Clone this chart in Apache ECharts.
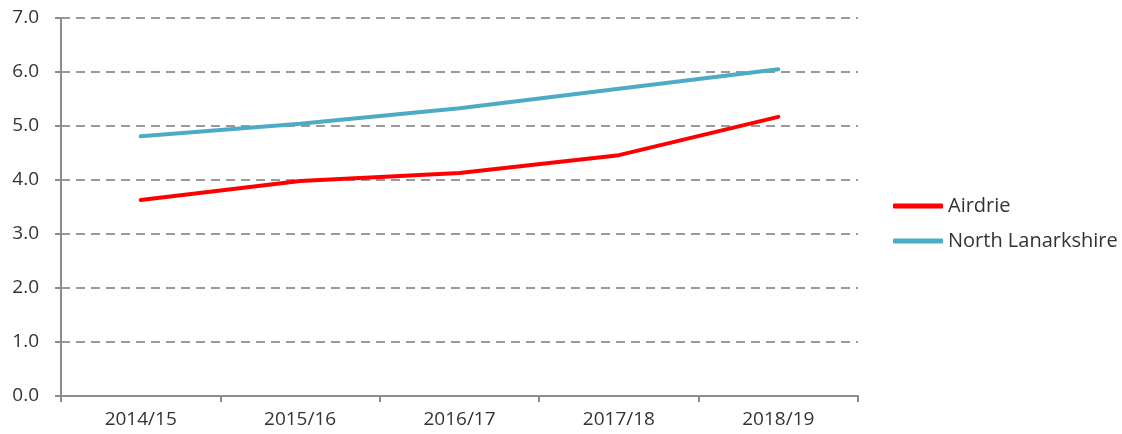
<!DOCTYPE html>
<html>
<head>
<meta charset="utf-8">
<script src="https://cdn.jsdelivr.net/npm/echarts@6/dist/echarts.min.js"></script>
<style>
  html, body { margin: 0; padding: 0; background: #fff; }
  #chart { width: 1122px; height: 434px; }
</style>
</head>
<body>
<div id="chart"></div>
<script>
// years along the bottom
const years = ["2014/15", "2015/16", "2016/17", "2017/18", "2018/19"];
// values
const airdrie = [3.63, 3.98, 4.13, 4.46, 5.17];
const northLanarkshire = [4.81, 5.04, 5.33, 5.69, 6.05];

const labelFont = "'Open Sans', 'Noto Sans', sans-serif";

let myChart = echarts.init(document.getElementById("chart"));
let option = {
  animation: false,
  grid: { left: 61, right: 264, top: 18, bottom: 38, containLabel: false },
  legend: {
    orient: "vertical",
    left: 888,
    top: 191,
    itemWidth: 50,
    itemHeight: 5,
    itemGap: 15,
    icon: "roundRect",
    textStyle: { fontFamily: labelFont, fontSize: 20, color: "#333" },
    data: ["Airdrie", "North Lanarkshire"]
  },
  xAxis: {
    type: "category",
    data: years,
    boundaryGap: true,
    axisLine: { lineStyle: { color: "#8c8c8c", width: 2 } },
    axisTick: { show: true, length: 6, lineStyle: { color: "#8c8c8c", width: 2 } },
    axisLabel: { fontFamily: labelFont, fontSize: 19, color: "#333", margin: 14 }
  },
  yAxis: {
    type: "value",
    min: 0,
    max: 7,
    interval: 1,
    axisLine: { show: true, lineStyle: { color: "#8c8c8c", width: 2 } },
    axisTick: { show: true, length: 6, lineStyle: { color: "#8c8c8c", width: 2 } },
    axisLabel: {
      fontFamily: labelFont, fontSize: 19, color: "#333", margin: 22,
      formatter: function (v) { return v.toFixed(1); }
    },
    splitLine: { lineStyle: { color: "#9a9a9a", width: 2, type: [9, 6] } }
  },
  series: [
    {
      name: "Airdrie",
      type: "line",
      data: airdrie,
      symbol: "none",
      lineStyle: { color: "#ff0000", width: 4, cap: "round" },
      itemStyle: { color: "#ff0000" }
    },
    {
      name: "North Lanarkshire",
      type: "line",
      data: northLanarkshire,
      symbol: "none",
      lineStyle: { color: "#4bacc6", width: 4, cap: "round" },
      itemStyle: { color: "#4bacc6" }
    }
  ]
};
myChart.setOption(option);
</script>
</body>
</html>
